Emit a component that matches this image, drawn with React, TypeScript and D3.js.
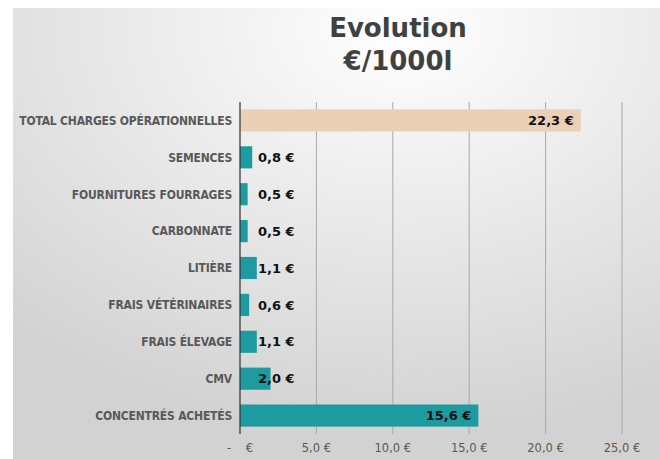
import React, { useEffect, useRef } from "react";
import * as d3 from "d3";

// charges opérationnelles, €/1000 l
const categories = [
  "TOTAL CHARGES OPÉRATIONNELLES",
  "SEMENCES",
  "FOURNITURES FOURRAGES",
  "CARBONNATE",
  "LITIÈRE",
  "FRAIS VÉTÉRINAIRES",
  "FRAIS ÉLEVAGE",
  "CMV",
  "CONCENTRÉS ACHETÉS",
];
const values = [22.3, 0.8, 0.5, 0.5, 1.1, 0.6, 1.1, 2.0, 15.6];
const xTicks = [0, 5, 10, 15, 20, 25];
const titleLines = ["Evolution", "€/1000l"];

const W = 660;
const H = 459;

const fmt = (v: number) => (v === 0 ? "-    €" : d3.format(".1f")(v).replace(".", ",") + " €");

const App = () => {
  const container = useRef<HTMLDivElement>(null);

  useEffect(() => {
    const el = container.current;
    if (!el) return;
    el.innerHTML = "";

    const margin = { top: 102, right: 38, bottom: 25, left: 240 };
    const width = W - margin.left - margin.right;
    const height = H - margin.top - margin.bottom;

    const svg = d3
      .select(el)
      .append("svg")
      .attr("width", W)
      .attr("height", H)
      .style("display", "block")
      .style("position", "absolute")
      .style("left", "0px")
      .style("top", "0px");

    const defs = svg.append("defs");
    const grad = defs
      .append("radialGradient")
      .attr("id", "bg")
      .attr("cx", "0.6")
      .attr("cy", "0.05")
      .attr("r", "0.9");
    grad.append("stop").attr("offset", "0%").attr("stop-color", "#ffffff");
    grad.append("stop").attr("offset", "100%").attr("stop-color", "#d2d2d2");

    svg.append("rect").attr("width", W).attr("height", H).attr("fill", "#ffffff");
    svg
      .append("rect")
      .attr("x", 13)
      .attr("y", 8)
      .attr("width", W - 13)
      .attr("height", H - 8)
      .attr("fill", "url(#bg)");

    // title
    const title = svg
      .append("text")
      .attr("text-anchor", "middle")
      .attr("font-family", "'DejaVu Sans', Verdana, sans-serif")
      .attr("font-weight", "bold")
      .attr("font-size", 26)
      .attr("fill", "#404040");
    titleLines.forEach((t, i) => {
      title
        .append("tspan")
        .attr("x", 398)
        .attr("y", 37 + i * 33)
        .text(t);
    });

    const g = svg.append("g").attr("transform", `translate(${margin.left},${margin.top})`);

    const x = d3.scaleLinear().domain([0, 25]).range([0, width]);
    const y = d3.scaleBand().domain(categories).range([0, height]).paddingInner(0.4).paddingOuter(0.2);

    // gridlines
    g.selectAll("line.grid")
      .data(xTicks.filter((t) => t > 0))
      .enter()
      .append("line")
      .attr("class", "grid")
      .attr("x1", (d) => x(d))
      .attr("x2", (d) => x(d))
      .attr("y1", 0)
      .attr("y2", height)
      .attr("stroke", "#a9a9a9")
      .attr("stroke-width", 1);

    // bars
    g.selectAll("rect.bar")
      .data(values)
      .enter()
      .append("rect")
      .attr("class", "bar")
      .attr("x", x(0))
      .attr("y", (d, i) => y(categories[i]) as number)
      .attr("width", (d) => x(d) - x(0))
      .attr("height", y.bandwidth())
      .attr("fill", (d, i) => (i === 0 ? "#ebcfb6" : "#1d9ba1"));

    // value labels
    g.selectAll("text.val")
      .data(values)
      .enter()
      .append("text")
      .attr("class", "val")
      .attr("x", (d) => (d > 10 ? x(d) - 7 : x(0) + 18))
      .attr("y", (d, i) => (y(categories[i]) as number) + y.bandwidth() / 2)
      .attr("dy", "0.36em")
      .attr("text-anchor", (d) => (d > 10 ? "end" : "start"))
      .attr("font-family", "'DejaVu Sans', Verdana, sans-serif")
      .attr("font-weight", "bold")
      .attr("font-size", 13)
      .attr("fill", "#111111")
      .text((d) => fmt(d));

    // axis line
    g.append("line")
      .attr("x1", x(0))
      .attr("x2", x(0))
      .attr("y1", 0)
      .attr("y2", height)
      .attr("stroke", "#303030")
      .attr("stroke-width", 1.2);

    // category labels
    g.selectAll("text.cat")
      .data(categories)
      .enter()
      .append("text")
      .attr("class", "cat")
      .attr("x", -8)
      .attr("y", (d) => (y(d) as number) + y.bandwidth() / 2)
      .attr("dy", "0.36em")
      .attr("text-anchor", "end")
      .attr("font-family", "'DejaVu Sans Condensed', 'DejaVu Sans', sans-serif")
      .attr("font-stretch", "condensed")
      .attr("font-weight", "bold")
      .attr("font-size", 12)
      .attr("letter-spacing", -0.2)
      .attr("fill", "#595959")
      .text((d) => d);

    // x tick labels
    g.selectAll("text.tick")
      .data(xTicks)
      .enter()
      .append("text")
      .attr("class", "tick")
      .attr("x", (d) => x(d))
      .attr("y", height + 18)
      .attr("text-anchor", "middle")
      .attr("font-family", "'DejaVu Sans', Verdana, sans-serif")
      .attr("font-size", 11.5)
      .attr("fill", "#595959")
      .style("white-space", "pre")
      .text((d) => fmt(d));
  }, []);

  return <div ref={container}></div>;
};

export default App;
